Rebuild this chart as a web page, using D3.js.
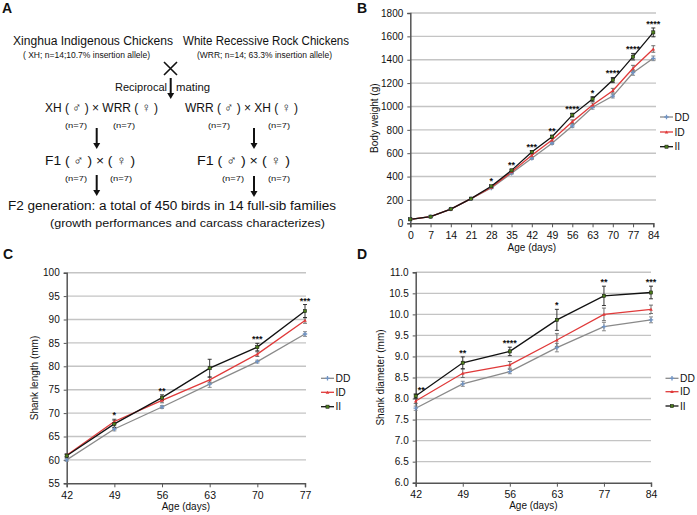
<!DOCTYPE html>
<html><head><meta charset="utf-8">
<script src="https://cdn.jsdelivr.net/npm/d3@7"></script>
<style>body{margin:0;background:#fff}svg{display:block}text{font-family:"Liberation Sans",Arial,sans-serif;fill:#111}</style>
</head><body><svg id="c" width="697" height="515"></svg>
<script>
// ---------- Panel B: body weight ----------
const bDays = [0,7,14,21,28,35,42,49,56,63,70,77,84];
const bDD = [34,57,122,211,302,428,556,685,833,993,1089,1289,1412];
const bID = [34,57,122,211,308,440,582,713,870,1012,1135,1327,1492];
const bII = [34,57,122,211,317,453,610,741,926,1064,1226,1426,1634];
const bDDerr = [3,3,4,5,6,8,10,10,14,16,16,22,20];
const bIDerr = [3,3,4,5,6,8,10,12,15,18,20,25,28];
const bIIerr = [3,3,4,5,7,9,11,13,16,20,22,28,38];
const bStars = ["","","","","*","**","***","**","****","*","****","****","****"];
const bYTicks = [0,200,400,600,800,1000,1200,1400,1600,1800];

// ---------- Panel C: shank length ----------
const cDays = [42,49,56,63,70,77];
const cDD = [60.0,66.6,71.3,76.2,81.0,86.9];
const cID = [61.0,68.2,72.7,77.1,82.6,89.8];
const cII = [60.9,67.7,73.3,79.6,84.1,91.8];
const cDDerr = [0.3,0.4,0.3,0.7,0.3,0.5];
const cIDerr = [0.3,0.5,0.5,0.6,0.5,0.6];
const cIIerr = [0.3,0.8,0.6,1.9,0.8,1.4];
const cStars = ["","*","**","","***","***"];
const cYTicks = [55,60,65,70,75,80,85,90,95,100];

// ---------- Panel D: shank diameter ----------
const dDays = ["42","49","56","63","77","84"];
const dDD = [7.77,8.35,8.64,9.21,9.71,9.87];
const dID = [7.94,8.60,8.80,9.39,10.00,10.12];
const dII = [8.06,8.85,9.12,9.87,10.44,10.52];
const dDDerr = [0.05,0.06,0.05,0.10,0.10,0.07];
const dIDerr = [0.06,0.10,0.08,0.15,0.15,0.10];
const dIIerr = [0.05,0.14,0.10,0.25,0.23,0.15];
const dStars = ["**","**","****","*","**","***"];
const dYTicks = [6.0,6.5,7.0,7.5,8.0,8.5,9.0,9.5,10.0,10.5,11.0];

const svg = d3.select("#c");
const lineCol = {DD:"#8a8a8a", ID:"#e03a3a", II:"#111111"};
const errCol = {DD:"#808080", ID:"#606060", II:"#222222"};

function marker(g, name, x, y){
  if(name==="DD"){
    g.append("path").attr("d",`M${x-2.2},${y}H${x+2.2}M${x},${y-2.2}V${y+2.2}`)
     .attr("stroke","#6f93c4").attr("stroke-width",1.3).attr("fill","none");
  } else if(name==="ID"){
    g.append("path").attr("d",`M${x-1.8},${y+1.4}L${x+1.8},${y+1.4}L${x},${y-1.6}Z`)
     .attr("fill","#e03a3a");
  } else {
    g.append("rect").attr("x",x-1.6).attr("y",y-1.6).attr("width",3.2).attr("height",3.2)
     .attr("fill","#4c7d1c").attr("stroke","#111").attr("stroke-width",0.5);
  }
}

function drawChart(o){
  const g = svg.append("g");
  const y = d3.scaleLinear().domain(o.yDomain).range(o.yRange);
  const x = o.x;
  g.selectAll(".grid").data(o.yTicks.slice(1)).join("line")
    .attr("x1",o.xRange[0]).attr("x2",o.gridEnd)
    .attr("y1",d=>y(d)).attr("y2",d=>y(d))
    .attr("stroke","#c4c4c4").attr("stroke-width",1.4);
  const ya = g.append("g").attr("transform",`translate(${o.xRange[0]},0)`)
    .call(d3.axisLeft(y).tickValues(o.yTicks).tickSize(3).tickPadding(4).tickFormat(o.yFmt));
  ya.select(".domain").attr("stroke","#555").attr("stroke-width",1.5);
  ya.selectAll(".tick line").attr("stroke","#555");
  ya.selectAll(".tick text").style("font-size","10px").style("font-family","Liberation Sans, Arial, sans-serif").attr("fill","#111");
  const xa = g.append("g").attr("transform",`translate(0,${o.yRange[0]})`)
    .call(d3.axisBottom(x).tickValues(o.xTicks).tickSizeOuter(0).tickSize(4).tickPadding(4));
  xa.select(".domain").attr("stroke","#555").attr("stroke-width",1.5);
  xa.selectAll(".tick line").attr("stroke","#555");
  xa.selectAll(".tick text").style("font-size","10.5px").style("font-family","Liberation Sans, Arial, sans-serif").attr("fill","#111");
  g.append("text").attr("x",(o.xRange[0]+o.xRange[1])/2).attr("y",o.xTitleY)
    .attr("text-anchor","middle").style("font-size","10px").text("Age (days)");
  g.append("text").attr("transform",`translate(${o.yTitleX},${(o.yRange[0]+o.yRange[1])/2}) rotate(-90)`)
    .attr("text-anchor","middle").style("font-size","10px").text(o.yTitle);
  o.series.forEach(s=>{
    s.values.forEach((v,i)=>{
      const xx = x(o.xVals[i]), e = s.errs[i];
      const y1 = y(v+e), y2 = y(v-e);
      g.append("path").attr("d",`M${xx},${y1}V${y2}M${xx-2},${y1}H${xx+2}M${xx-2},${y2}H${xx+2}`)
        .attr("stroke",errCol[s.name]).attr("stroke-width",0.9).attr("fill","none");
    });
  });
  const line = d3.line().x((d,i)=>x(o.xVals[i])).y(d=>y(d));
  o.series.forEach(s=>{
    g.append("path").datum(s.values).attr("d",line).attr("fill","none")
      .attr("stroke",lineCol[s.name]).attr("stroke-width",1.3);
  });
  o.series.forEach(s=>{
    s.values.forEach((v,i)=>marker(g,s.name,x(o.xVals[i]),y(v)));
  });
  const top = o.series.find(s=>s.name==="II");
  o.stars.forEach((st,i)=>{
    if(!st) return;
    const xx = x(o.xVals[i]);
    const ymax = d3.max(o.series, s=>s.values[i]+s.errs[i]);
    if(o.firstRight && i===0){
      g.append("text").attr("x",xx+2).attr("y",y(top.values[i])-3)
       .style("font-size","9px").style("font-weight","bold").text(st);
    } else {
      g.append("text").attr("x",xx).attr("y",y(ymax)-1).attr("text-anchor","middle")
       .style("font-size","9px").style("font-weight","bold").text(st);
    }
  });
  o.series.forEach((s,i)=>{
    const ly = o.legY[i];
    g.append("line").attr("x1",o.legX).attr("x2",o.legX+13).attr("y1",ly).attr("y2",ly)
      .attr("stroke",lineCol[s.name]).attr("stroke-width",1.3);
    marker(g,s.name,o.legX+6.5,ly);
    g.append("text").attr("x",o.legX+14.5).attr("y",ly+3.7).style("font-size","10.3px").text(s.name);
  });
}

drawChart({
  x: d3.scaleLinear().domain([0,84]).range([410.3,653.3]),
  xVals: bDays, xTicks: bDays, xRange:[410.3,653.3], gridEnd:656,
  yDomain:[0,1800], yRange:[223.3,13], yTicks:bYTicks, yFmt:d3.format("d"),
  series:[{name:"DD",values:bDD,errs:bDDerr},{name:"ID",values:bID,errs:bIDerr},{name:"II",values:bII,errs:bIIerr}],
  stars:bStars, xTitleY:251, yTitleX:378, yTitle:"Body weight (g)",
  legX:660, legY:[117,132,146.7]
});
drawChart({
  x: d3.scaleLinear().domain([42,77]).range([66.7,305]),
  xVals: cDays, xTicks: cDays, xRange:[66.7,305], gridEnd:306,
  yDomain:[55,100], yRange:[483.3,272.7], yTicks:cYTicks, yFmt:d3.format("d"),
  series:[{name:"DD",values:cDD,errs:cDDerr},{name:"ID",values:cID,errs:cIDerr},{name:"II",values:cII,errs:cIIerr}],
  stars:cStars, xTitleY:510, yTitleX:38, yTitle:"Shank length (mm)",
  legX:321, legY:[378.3,392.3,406.7]
});
drawChart({
  x: d3.scalePoint().domain(dDays).range([415.7,651]),
  xVals: dDays, xTicks: dDays, xRange:[415.7,651], gridEnd:651,
  yDomain:[6,11], yRange:[482.7,272.3], yTicks:dYTicks, yFmt:d3.format(".1f"),
  series:[{name:"DD",values:dDD,errs:dDDerr},{name:"ID",values:dID,errs:dIDerr},{name:"II",values:dII,errs:dIIerr}],
  stars:dStars, xTitleY:509, yTitleX:384, yTitle:"Shank diameter (mm)",
  legX:665.5, legY:[378.3,391.7,406], firstRight:true
});

const letters = [["A",2,13],["B",357,13],["C",3,259],["D",357,259]];
letters.forEach(([t,x,y])=>svg.append("text").attr("x",x).attr("y",y)
  .style("font-size","14px").style("font-weight","bold").text(t));

// ---------- Panel A: mating scheme ----------
const a = svg.append("g");
function T(txt,x,y,size,len,anchor){
  const t = a.append("text").attr("x",x).attr("y",y).style("font-size",size+"px").text(txt);
  if(anchor) t.attr("text-anchor",anchor);
  if(len) t.attr("textLength",len).attr("lengthAdjust","spacingAndGlyphs");
  return t;
}
function arrow(x,y1,y2){
  a.append("line").attr("x1",x).attr("x2",x).attr("y1",y1).attr("y2",y2-5)
   .attr("stroke","#111").attr("stroke-width",2);
  a.append("path").attr("d",`M${x-3.5},${y2-6}L${x+3.5},${y2-6}L${x},${y2}Z`).attr("fill","#111");
}
T("Xinghua Indigenous Chickens",13,45,12,160);
T("White Recessive Rock Chickens",183,45,12,166);
T("( XH; n=14;10.7% insertion allele)",23,58,8.5,127);
T("(WRR; n=14; 63.3% insertion allele)",197,58,8.5,135);
a.append("path").attr("d","M164,62L177,75M177,62L164,75").attr("stroke","#111").attr("stroke-width",1.6);
arrow(170.7,78,99);
T("Reciprocal",167,91,10,52,"end");
T("mating",176,91,10,34);
T("XH ( \u2642 ) \u00d7 WRR ( \u2640 )",45,112,13,113);
T("WRR ( \u2642 ) \u00d7 XH ( \u2640 )",185,112,13,113);
[[65,128],[113,128],[208,128],[268,128],[65,181],[110,181],[222,181],[268,181]].forEach(p=>T("(n=7)",p[0],p[1],8,22));
arrow(96.7,128,149);
arrow(254,128,149);
T("F1 ( \u2642 ) \u00d7 ( \u2640 )",45,165,13,90);
T("F1 ( \u2642 ) \u00d7 ( \u2640 )",197,165,13,93);
arrow(96.7,175,196);
arrow(254,176,197);
T("F2 generation: a total of 450 birds in 14 full-sib families",8,210,12.5,328);
T("(growth performances and carcass characterizes)",50,227,11,275);
</script></body></html>
